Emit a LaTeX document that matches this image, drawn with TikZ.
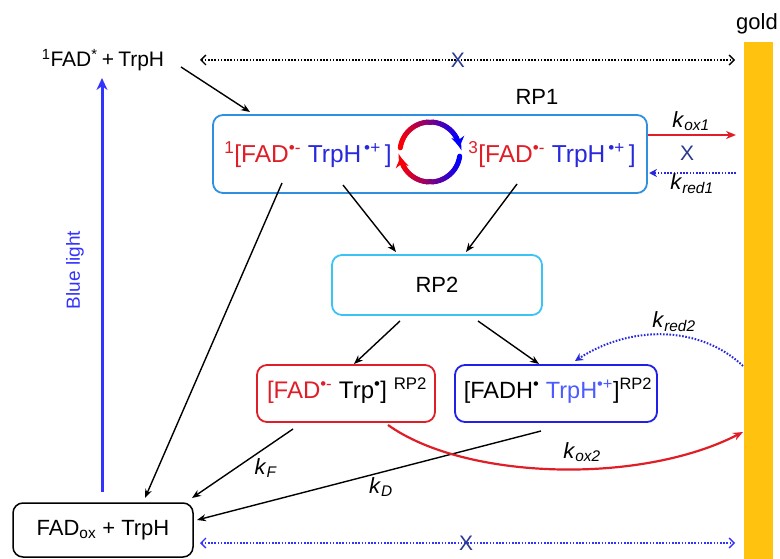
\documentclass[tikz,border=0pt]{standalone}
\usepackage{fontspec}
\setmainfont{Liberation Sans}
\usetikzlibrary{arrows.meta,calc}
\definecolor{myred}{HTML}{E01E28}
\definecolor{myblue}{HTML}{2828DC}
\definecolor{lblue}{HTML}{4B5BFF}
\definecolor{rpone}{HTML}{3090E0}
\definecolor{rptwo}{HTML}{3CC3F5}
\definecolor{bboxc}{HTML}{2020E8}
\definecolor{navy}{HTML}{2B3A8F}
\definecolor{goldc}{HTML}{FFC20E}
\definecolor{blight}{HTML}{3333FF}
\newcommand\krate[1]{\textit{k}\textsubscript{\textit{#1}}}
\begin{document}
\begin{tikzpicture}[x=1pt,y=-1pt,
  font=\fontsize{22}{26}\selectfont,
  box/.style={draw, rounded corners=10pt, line width=1.8pt, inner sep=0pt, align=center},
  conn/.style={-{Stealth[length=9pt,width=7pt]}, line width=1.4pt},
  dotb/.style={line width=1.6pt, dash pattern=on 1.6pt off 1.6pt},
  openhd/.style={{Straight Barb[length=5pt,width=10pt,line width=1.4pt]}-{Straight Barb[length=5pt,width=10pt,line width=1.4pt]}},
  xmark/.style={text=navy, font=\fontsize{21}{24}\selectfont, inner sep=0pt},
  klab/.style={inner sep=0pt},
  bigtxt/.style={font=\fontsize{24.5}{28}\selectfont}
]
\useasboundingbox (0,0) rectangle (780,559);

% gold electrode
\node[fill=goldc, minimum width=29pt, minimum height=517pt, inner sep=0pt] (goldbar) at (758.5,300.5) {};
\node (goldlab) at (757,24) {gold};

% top species
\node[font=\fontsize{21}{24}\selectfont] (fadstar) at (103,60) {\textsuperscript{1}FAD\textsuperscript{*}\hspace{0.2em}+\hspace{0.2em}TrpH};

% RP1
\node[box, draw=rpone, minimum width=434pt, minimum height=78pt] (rp1) at (430,154) {};
\node (rp1lab) at (537,97) {RP1};
\node[bigtxt] (rp1l) at (308,155) {{\color{myred}\textsuperscript{1}[FAD\textsuperscript{•-}} {\color{myblue}TrpH\textsuperscript{\,•+}\,]}};
\node[bigtxt] (rp1r) at (552,155) {{\color{myred}\textsuperscript{3}[FAD\textsuperscript{•-}} {\color{myblue}TrpH\textsuperscript{\,•+}\,]}};

% interconversion cycle
\begin{scope}[shift={(430,152)}, yscale=-1]
  \foreach \a in {172,168,...,32} {
    \pgfmathsetmacro\r{50*(1-cos(\a))}
    \draw[line width=5pt, line cap=round, color=red!\r!blue] (\a:30) arc[start angle=\a, end angle=\a-4, radius=30];
  }
  \draw[line width=5pt, color=blue, -{Stealth[length=10pt,width=13pt]}] (30:30) arc[start angle=30, end angle=10, radius=30];
  \foreach \a in {-8,-12,...,-148} {
    \pgfmathsetmacro\r{50*(1-cos(\a))}
    \draw[line width=5pt, line cap=round, color=red!\r!blue] (\a:30) arc[start angle=\a, end angle=\a-4, radius=30];
  }
  \draw[line width=5pt, color=red!97!blue, -{Stealth[length=10pt,width=13pt]}] (-150:30) arc[start angle=-150, end angle=-170, radius=30];
\end{scope}

% RP2
\node[box, draw=rptwo, minimum width=210pt, minimum height=60pt] (rp2) at (437,285) {RP2};

% RP2 species
\node[box, draw=myred, minimum width=178pt, minimum height=57pt] (rpa) at (346,393.5) {};
\node[font=\fontsize{24}{28}\selectfont] (rpatext) at (347,391) {{\color{myred}[FAD\textsuperscript{•-}} Trp\textsuperscript{•}] \textsuperscript{RP2}};
\node[box, draw=bboxc, minimum width=202pt, minimum height=57pt] (rpb) at (556,393.5) {};
\node[font=\fontsize{23.5}{28}\selectfont] (rpbtext) at (558,391) {[FADH\textsuperscript{•} {\color{lblue}TrpH\textsuperscript{•+}}]\textsuperscript{RP2}};

% ground state
\node[box, draw=black, line width=1.5pt, minimum width=180pt, minimum height=54pt] (fadox) at (103,530) {FAD\textsubscript{ox} + TrpH};

% coordinates for connector ends
\coordinate (topL) at (200,60);
\coordinate (topR) at (735,60);
\coordinate (s1) at (181,67);
\coordinate (e1) at (250,112);
\coordinate (oxs) at (648,135);
\coordinate (oxe) at (736,135);
\coordinate (rds) at (736,173);
\coordinate (rde) at (649,173);
\coordinate (l1) at (282,183);
\coordinate (l1e) at (145,498);
\coordinate (l2) at (343,185);
\coordinate (l2e) at (396,252);
\coordinate (l3) at (517,184);
\coordinate (l3e) at (466,252);
\coordinate (m1) at (400,321);
\coordinate (m1e) at (354,364);
\coordinate (m2) at (478,321);
\coordinate (m2e) at (539,364);
\coordinate (r2s) at (743,366);
\coordinate (r2e) at (575,361);
\coordinate (o2s) at (388,425);
\coordinate (o2e) at (743,432);
\coordinate (kds) at (541,431);
\coordinate (kde) at (197,520);
\coordinate (kfs) at (293,429);
\coordinate (kfe) at (192,498);
\coordinate (botL) at (200,543);
\coordinate (botR) at (735,543);
\coordinate (bls) at (102,492);
\coordinate (ble) at (102,78);

% top dotted (no transfer)
\draw[dotb, openhd, black] (topL) -- (topR);
\node[xmark] (x1) at (458,60) {X};

% excitation to RP1
\draw[conn] (s1) -- (e1);

% kox1 / kred1
\draw[-{Stealth[length=10pt,width=8pt]}, line width=2.2pt, myred] (oxs) -- (oxe);
\node[klab] (kox1) at (691,121) {\krate{ox1}};
\node[xmark] (x2) at (687,153) {X};
\draw[dotb, myblue, line width=2pt, -{Stealth[length=8pt,width=8pt]}] (rds) -- (rde);
\node[klab] (kred1) at (692,184) {\krate{red1}};

% RP1 -> RP2 and -> ground
\draw[conn] (l1) -- (l1e);
\draw[conn] (l2) -- (l2e);
\draw[conn] (l3) -- (l3e);

% RP2 -> species
\draw[conn] (m1) -- (m1e);
\draw[conn] (m2) -- (m2e);

% kred2
\draw[dotb, myblue, line width=2pt, -{Stealth[length=8pt,width=8pt]}] (r2s) .. controls (700,325) and (630,325) .. (r2e);
\node[klab] (kred2) at (674,322) {\krate{red2}};

% kD
\draw[conn] (kds) -- (kde);
\node[klab] (kD) at (381,487) {\krate{D}};

% kox2
\draw[-{Stealth[length=10pt,width=8pt]}, line width=2.2pt, myred] (o2s) .. controls (465,480) and (640,485) .. (o2e);
\node[klab] (kox2) at (582,452) {\krate{ox2}};

% kF
\draw[conn] (kfs) -- (kfe);
\node[klab] (kF) at (266,468) {\krate{F}};

% bottom dotted
\draw[dotb, openhd, blight] (botL) -- (botR);
\node[xmark] (x3) at (466,543) {X};

% blue light
\draw[blight, line width=3pt, -{Stealth[length=12pt,width=11pt]}] (bls) -- (ble);
\node[rotate=90, text=blight, font=\fontsize{19}{22}\selectfont] (bl) at (75,270) {Blue light};
\end{tikzpicture}
\end{document}
